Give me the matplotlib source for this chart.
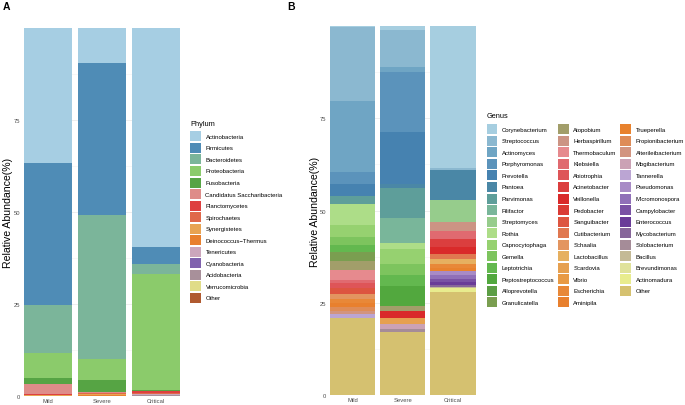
import matplotlib
matplotlib.use('Agg')
import matplotlib.pyplot as plt
from matplotlib.patches import Rectangle
import numpy as np

plt.rcParams['font.family'] = ['Liberation Sans', 'DejaVu Sans']

groups = ['Mild', 'Severe', 'Critical']

# ---------------- Panel A: Phylum ----------------
phyla = ['Actinobacteria', 'Firmicutes', 'Bacteroidetes', 'Proteobacteria',
         'Fusobacteria', 'Candidatus Saccharibacteria', 'Planctomycetes',
         'Spirochaetes', 'Synergistetes', 'Deinococcus\u2212Thermus',
         'Tenericutes', 'Cyanobacteria', 'Acidobacteria', 'Verrucomicrobia',
         'Other']
phylum_mild = [36.7, 38.5, 13.0, 6.8, 1.8, 2.6, 0.25, 0.2, 0.05, 0.05,
               0.02, 0.01, 0.01, 0.0, 0.01]
phylum_severe = [9.4, 41.4, 39.2, 5.7, 3.1, 0.3, 0.2, 0.25, 0.25, 0.1,
                 0.05, 0.02, 0.02, 0.01, 0.0]
phylum_critical = [59.4, 4.7, 2.8, 31.6, 0.05, 0.05, 0.5, 0.3, 0.05, 0.05,
                   0.15, 0.2, 0.1, 0.02, 0.03]
phylum_colors = ['#A6CEE3', '#4F8CB6', '#7BB59A', '#8BCB6B', '#56A444',
                 '#DE8C89', '#DE4040', '#E0684A', '#E8A352', '#E8802E',
                 '#CCA6BC', '#8062AE', '#A8909A', '#E0DC88', '#B05A30']

# ---------------- Panel B: Genus ----------------
genera = ['Corynebacterium', 'Streptococcus', 'Actinomyces', 'Porphyromonas',
          'Prevotella', 'Pantoea', 'Parvimonas', 'Filifactor', 'Streptomyces',
          'Rothia', 'Capnocytophaga', 'Gemella', 'Leptotrichia',
          'Peptostreptococcus', 'Alloprevotella', 'Granulicatella',
          'Atopobium', 'Herbaspirillum', 'Thermobaculum', 'Klebsiella',
          'Abiotrophia', 'Acinetobacter', 'Veillonella', 'Pedobacter',
          'Sanguibacter', 'Cutibacterium', 'Schaalia', 'Lactobacillus',
          'Scardovia', 'Vibrio', 'Escherichia', 'Aminipila',
          'Trueperella', 'Propionibacterium', 'Alterileibacterium',
          'Mogibacterium', 'Tannerella', 'Pseudomonas', 'Micromonospora',
          'Campylobacter', 'Enterococcus', 'Mycobacterium', 'Solobacterium',
          'Bacillus', 'Brevundimonas', 'Actinomadura', 'Other']
genus_mild = [0.3, 20.0, 19.2, 3.2, 3.4, 0.0, 2.2, 0.0, 0.0,
              5.5, 3.5, 2.1, 1.8, 0.0, 0.0, 2.6,
              2.4, 0.0, 2.5, 1.0, 1.3, 0.0, 0.0, 0.0,
              1.7, 0.0, 1.4, 0.0, 0.0, 0.0, 1.0, 1.1,
              0.0, 1.0, 0.8, 0.0, 1.1, 0.0, 0.0,
              0.0, 0.0, 0.0, 0.0, 0.0, 0.0, 0.0, 20.9]
genus_severe = [1.2, 9.9, 1.4, 16.3, 14.1, 1.1, 7.9, 6.9, 0.0,
                1.5, 4.1, 3.2, 2.9, 5.4, 0.0, 0.0,
                1.3, 0.0, 0.0, 0.0, 0.0, 0.0, 2.0, 0.0,
                0.0, 0.0, 0.0, 0.0, 1.5, 0.0, 0.0, 0.0,
                0.0, 0.0, 0.0, 1.4, 0.0, 0.0, 0.0,
                0.0, 0.0, 0.0, 0.7, 0.0, 0.0, 0.0, 17.2]
genus_critical = [38.35, 0.7, 0.0, 0.0, 0.0, 8.15, 0.0, 0.0, 5.9,
                  0.0, 0.0, 0.0, 0.0, 0.0, 0.0, 0.0,
                  0.0, 2.5, 0.0, 2.2, 0.0, 2.2, 1.7, 0.0,
                  0.0, 1.5, 0.0, 1.2, 0.0, 0.0, 1.2, 0.0,
                  0.9, 0.0, 0.0, 0.0, 0.0, 1.1, 0.9,
                  0.9, 0.7, 0.5, 0.0, 0.4, 0.0, 1.1, 27.9]
genus_colors = ['#A6CEE0', '#8BB8D0', '#6FA5C4', '#5B93BB', '#4682B0',
                '#4A87A6', '#5E9E9A', '#79B69A', '#96CC8C', '#ADDD88',
                '#96D170', '#7DC45E', '#63B84F', '#52A83E', '#5C9E45',
                '#7A9E50', '#A29E6A', '#CC9484', '#E68A8E', '#E06A70',
                '#DE5558', '#DB3E3E', '#D92A2A', '#DA3B35', '#DD5540',
                '#E07850', '#E39560', '#E6B060', '#E6A050', '#E89A45',
                '#E88838', '#E8802E', '#E8822E', '#DE8C58', '#D29480',
                '#CBA2B5', '#BBA5D3', '#A88BC6', '#9070B8', '#7A52A4',
                '#6A3C98', '#87669A', '#A58C98', '#C4BA96', '#E0E29A',
                '#E8EC8E', '#D5C170']

W, H = 685, 406
fig = plt.figure(figsize=(W / 100, H / 100), dpi=100)


def px_axes(left, right, top, bottom):
    return fig.add_axes([left / W, (H - bottom) / H, (right - left) / W,
                         (bottom - top) / H])


def stacked(ax, cats, per_group, colors):
    x = np.arange(len(groups))
    data = np.column_stack(per_group)  # rows = categories, cols = groups
    bottom = np.zeros(len(groups))
    for i in range(len(cats) - 1, -1, -1):
        ax.bar(x, data[i], 0.9, bottom=bottom, color=colors[i],
               linewidth=0, zorder=2)
        bottom += data[i]
    ax.set_xlim(-0.45, len(groups) - 0.55)
    ax.set_ylim(0, 100)
    ax.set_xticks(x)
    ax.set_xticklabels(groups)
    ax.set_yticks([0, 25, 50, 75])
    ax.set_yticks([12.5, 37.5, 62.5, 87.5], minor=True)
    for s in ax.spines.values():
        s.set_visible(False)
    ax.tick_params(axis='both', which='both', length=0, labelsize=4.2,
                   labelcolor='#4D4D4D')
    ax.tick_params(axis='y', pad=3)
    ax.tick_params(axis='x', pad=1.5)
    ax.grid(True, which='major', axis='y', color='#EBEBEB', lw=0.6, zorder=0)
    ax.grid(True, which='minor', axis='y', color='#F2F2F2', lw=0.4, zorder=0)
    ax.set_axisbelow(True)
    ax.set_ylabel('Relative Abundance(%)', fontsize=7.6, color='black',
                  va='center', ha='center')


axA = px_axes(24, 180, 29, 397)
stacked(axA, phyla, [phylum_mild, phylum_severe, phylum_critical],
        phylum_colors)
axA.yaxis.set_label_coords((8 - 24) / 156, 0.5)

axB = px_axes(330, 475.5, 27, 396)
stacked(axB, genera, [genus_mild, genus_severe, genus_critical],
        genus_colors)
axB.yaxis.set_label_coords((314.5 - 330) / 145.5, 0.5)

# ---------------- overlay for legends and panel letters ----------------
lax = fig.add_axes([0, 0, 1, 1], zorder=5)
lax.set_xlim(0, W)
lax.set_ylim(H, 0)
lax.patch.set_visible(False)
lax.axis('off')

lax.text(3, 7, 'A', fontsize=7.5, fontweight='bold', va='center', ha='left')
lax.text(287, 7, 'B', fontsize=7.5, fontweight='bold', va='center', ha='left')

key_w, key_h, step = 10.5, 10, 11.55
txt_size = 4.3

# Phylum legend
lax.text(190.5, 125, 'Phylum', fontsize=5.3, va='center', ha='left')
y0 = 137.3
for i, (name, col) in enumerate(zip(phyla, phylum_colors)):
    yc = y0 + i * step
    lax.add_patch(Rectangle((190.5, yc - key_h / 2), key_w, key_h,
                            facecolor=col, edgecolor='none'))
    lax.text(205.5, yc, name, fontsize=txt_size, va='center', ha='left')

# Genus legend
lax.text(487, 117, 'Genus', fontsize=5.3, va='center', ha='left')
col_key_x = [487, 558.5, 620.5]
col_txt_x = [501.8, 573.4, 635.6]
rows_per_col = [16, 16, 15]
gy0 = 130.2
idx = 0
for c, nrows in enumerate(rows_per_col):
    for r in range(nrows):
        yc = gy0 + r * step
        lax.add_patch(Rectangle((col_key_x[c], yc - key_h / 2), key_w, key_h,
                                facecolor=genus_colors[idx], edgecolor='none'))
        lax.text(col_txt_x[c], yc, genera[idx], fontsize=txt_size,
                 va='center', ha='left')
        idx += 1

fig.savefig('out.png', dpi=100)
